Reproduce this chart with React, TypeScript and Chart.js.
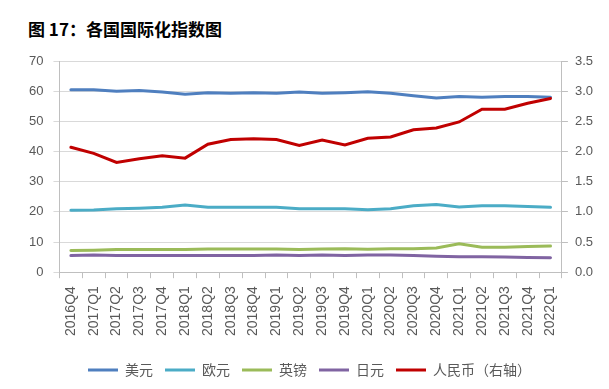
import React, { useEffect, useRef } from "react";
import { Chart, registerables } from "chart.js";

Chart.register(...registerables);

const categories = [
  "2016Q4", "2017Q1", "2017Q2", "2017Q3", "2017Q4", "2018Q1", "2018Q2", "2018Q3", "2018Q4",
  "2019Q1", "2019Q2", "2019Q3", "2019Q4", "2020Q1", "2020Q2", "2020Q3", "2020Q4",
  "2021Q1", "2021Q2", "2021Q3", "2021Q4", "2022Q1",
];
const usd = [60.5, 60.5, 60.0, 60.2, 59.7, 59.0, 59.5, 59.3, 59.5, 59.3, 59.7, 59.3, 59.5, 59.8, 59.3, 58.5, 57.7, 58.2, 58.0, 58.2, 58.2, 58.0];
const eur = [20.5, 20.6, 21.0, 21.2, 21.5, 22.3, 21.5, 21.5, 21.5, 21.5, 21.0, 21.0, 21.0, 20.7, 21.0, 22.0, 22.4, 21.6, 22.0, 22.0, 21.8, 21.5];
const gbp = [7.2, 7.3, 7.5, 7.5, 7.5, 7.5, 7.7, 7.7, 7.7, 7.7, 7.5, 7.7, 7.8, 7.6, 7.8, 7.8, 8.0, 9.4, 8.3, 8.3, 8.5, 8.7];
const jpy = [5.5, 5.7, 5.5, 5.5, 5.5, 5.5, 5.5, 5.5, 5.5, 5.7, 5.5, 5.7, 5.5, 5.7, 5.7, 5.5, 5.3, 5.1, 5.1, 5.0, 4.9, 4.8];
const rmb = [2.07, 1.97, 1.82, 1.88, 1.93, 1.89, 2.12, 2.20, 2.21, 2.20, 2.10, 2.19, 2.11, 2.22, 2.24, 2.36, 2.39, 2.49, 2.70, 2.70, 2.80, 2.88];
const seriesNames = ["美元", "欧元", "英镑", "日元", "人民币（右轴）"];
const leftTicks = [0, 10, 20, 30, 40, 50, 60, 70];
const rightTicks = [0, 0.5, 1.0, 1.5, 2.0, 2.5, 3.0, 3.5];

const GRAY = "#595959";
const FONT = "'Liberation Sans', 'Noto Sans CJK SC', sans-serif";

export default function App() {
  const ref = useRef<HTMLCanvasElement | null>(null);
  useEffect(() => {
    if (!ref.current) return;
    const mk = (label: string, data: number[], color: string, axis: string, order: number) => ({
      label,
      data,
      borderColor: color,
      backgroundColor: color,
      borderWidth: 3,
      pointRadius: 0,
      tension: 0,
      yAxisID: axis,
      order,
      borderCapStyle: "round" as const,
    });
    const chart = new Chart(ref.current, {
      type: "line",
      data: {
        labels: categories,
        datasets: [
          mk(seriesNames[0], usd, "#4F7FBF", "y", 1),
          mk(seriesNames[1], eur, "#4BACC6", "y", 1),
          mk(seriesNames[2], gbp, "#9BBB59", "y", 1),
          mk(seriesNames[3], jpy, "#8064A2", "y", 1),
          mk(seriesNames[4], rmb, "#C00000", "y1", 0),
        ],
      },
      options: {
        animation: false,
        responsive: false,
        maintainAspectRatio: false,
        layout: { padding: { left: 19, right: 9, top: 61, bottom: 2 } },
        plugins: {
          title: { display: false },
          tooltip: { enabled: false },
          legend: {
            position: "bottom",
            labels: {
              usePointStyle: true,
              pointStyle: "line",
              pointStyleWidth: 30,
              color: GRAY,
              font: { family: "'Noto Sans CJK SC', sans-serif", size: 14 },
              padding: 12,
              sort: (a: any, b: any) => a.datasetIndex - b.datasetIndex,
            },
          },
        },
        scales: {
          x: {
            type: "category",
            offset: true,
            afterFit: (s: any) => { s.height += 7; },
            grid: { display: true, drawOnChartArea: false, offset: true, tickLength: 6, color: "#bfbfbf" },
            border: { display: true, color: "#bfbfbf" },
            ticks: {
              autoSkip: false,
              maxRotation: 90,
              minRotation: 90,
              color: GRAY,
              padding: 8,
              font: { family: FONT, size: 14 },
            },
          },
          y: {
            position: "left",
            min: 0,
            max: 70,
            afterBuildTicks: (s: any) => { s.ticks = leftTicks.map((v) => ({ value: v })); },
            grid: { color: "#d9d9d9", tickLength: 6 },
            border: { display: true, color: "#bfbfbf" },
            ticks: { color: GRAY, padding: 10, font: { family: FONT, size: 13 } },
          },
          y1: {
            position: "right",
            min: 0,
            max: 3.5,
            afterBuildTicks: (s: any) => { s.ticks = rightTicks.map((v) => ({ value: v })); },
            grid: { drawOnChartArea: false, tickLength: 6, color: "#bfbfbf" },
            border: { display: true, color: "#bfbfbf" },
            ticks: {
              color: GRAY,
              padding: 7,
              font: { family: FONT, size: 13 },
              callback: (v: any) => Number(v).toFixed(1),
            },
          },
        },
      },
    });
    return () => chart.destroy();
  }, []);

  return (
    <div style={{ position: "absolute", left: 0, top: 0, width: 609, height: 389, background: "#fff" }}>
      <div
        style={{
          position: "absolute",
          left: 28,
          top: 19,
          fontFamily: "'Noto Sans CJK SC', sans-serif",
          fontWeight: 700,
          fontSize: 17,
          color: "#000",
          whiteSpace: "nowrap",
          lineHeight: "20px",
        }}
      >
        图 17：各国国际化指数图
      </div>
      <canvas ref={ref} width={609} height={389} style={{ position: "absolute", left: 0, top: 0, width: 609, height: 389 }} />
    </div>
  );
}
